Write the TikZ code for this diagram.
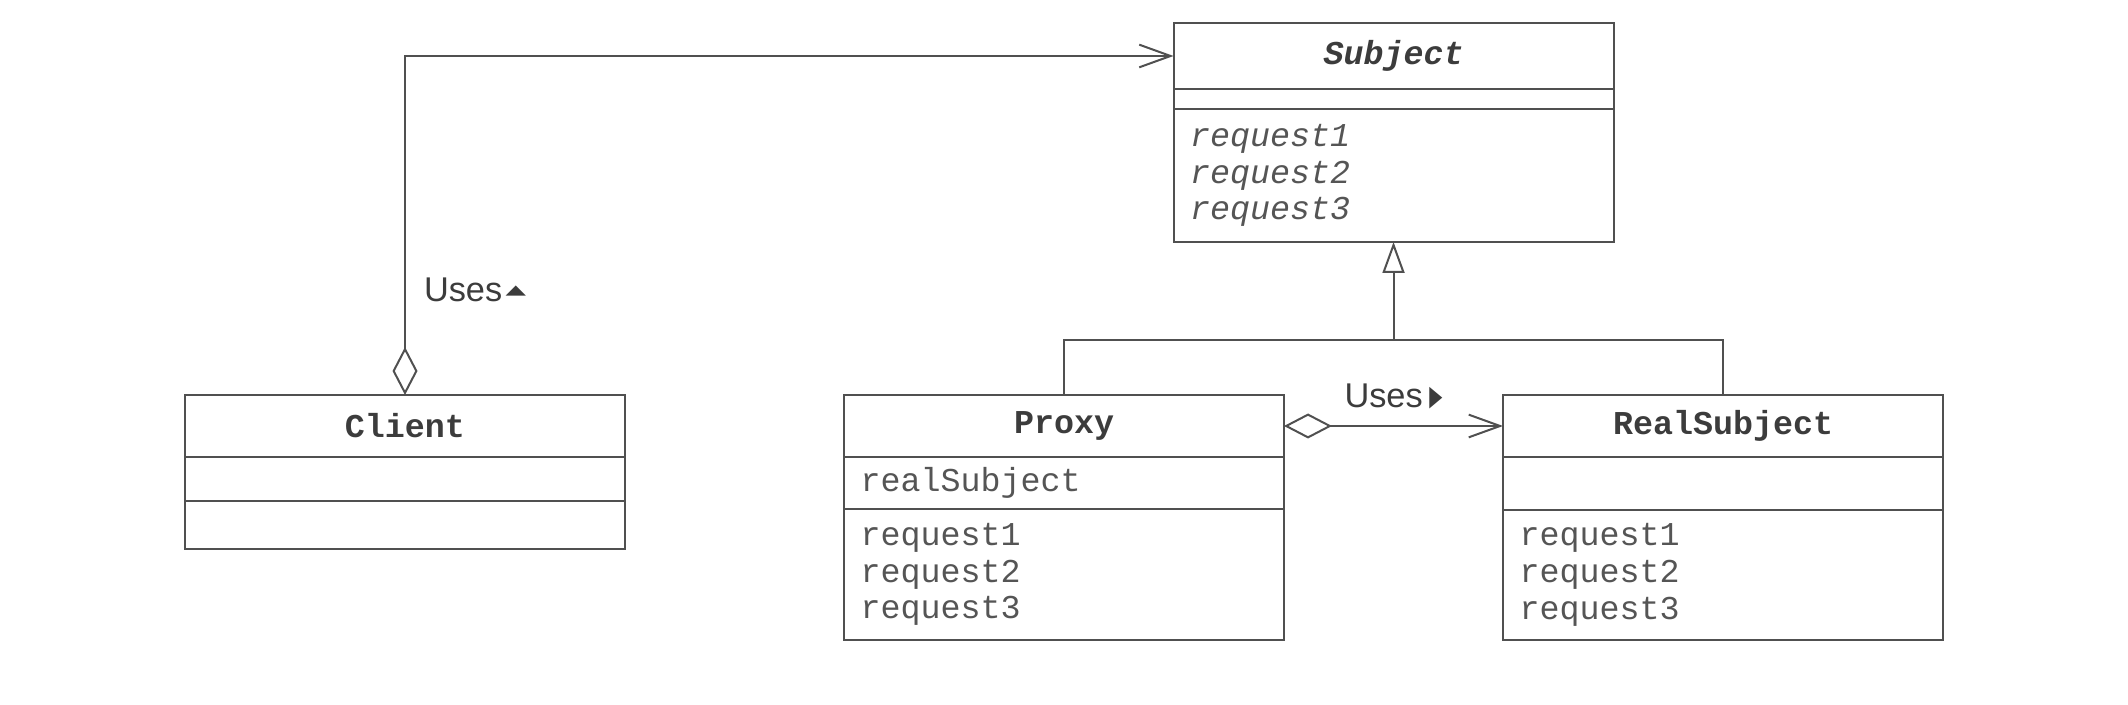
\documentclass[tikz,border=0pt]{standalone}
\usepackage{fontspec}
\setmainfont{Liberation Serif}
\setmonofont{Liberation Mono}
\setsansfont{Liberation Sans}
\newfontfamily\symfont{DejaVu Sans}
\usepackage{tikz}
\usetikzlibrary{arrows.meta, positioning, calc}
\definecolor{umlline}{HTML}{505050}
\definecolor{umltext}{HTML}{3C3C3C}
\definecolor{umlmeth}{HTML}{555555}
\newcommand{\usesup}{{\symfont\fontsize{8pt}{8pt}\selectfont\raisebox{2pt}{\scalebox{1}[0.5]{▲}}}}
\newcommand{\usesright}{{\symfont\fontsize{8.5pt}{9pt}\selectfont\raisebox{0.6pt}{\scalebox{0.6}[1]{▶}}}}
\tikzset{
  cpart/.style={draw=umlline, line width=0.6pt, outer sep=0pt, inner xsep=5pt, inner ysep=0pt, text width=122pt, text=umlmeth, font=\ttfamily\fontsize{10pt}{11pt}\selectfont},
  cname/.style={cpart, align=center, minimum height=18.6pt, text=umltext, font=\ttfamily\bfseries\fontsize{10pt}{11pt}\selectfont},
  cattr/.style={cpart, align=left},
  cops/.style={cpart, align=left},
  link/.style={draw=umlline, line width=0.6pt},
  uses/.style={link, {Diamond[open, length=14.4pt, width=7.5pt]}-{Straight Barb[length=9.4pt, width=6.8pt]}},
  inherit/.style={link, -{Triangle[open, length=9.3pt, width=6.6pt]}},
  ulbl/.style={font=\sffamily\fontsize{10.3pt}{12pt}\selectfont, text=umltext, inner sep=0pt},
}

\begin{document}
\begin{tikzpicture}[node distance=0pt and 65.7pt]
  \useasboundingbox (-55.5pt,118.5pt) rectangle (582.9pt,-92.7pt);
  % client
  \node[cname, anchor=north west] (client) at (0,0) {Client};
  \node[cattr, below=of client, minimum height=13.2pt] (client-attr) {};
  \node[cops, below=of client-attr, minimum height=14.4pt] (client-ops) {};
  % proxy
  \node[cname, right=of client] (proxy) {Proxy};
  \node[cattr, below=of proxy, minimum height=15.6pt] (proxy-attr) {realSubject};
  \node[cops, below=of proxy-attr, minimum height=39.3pt] (proxy-ops) {request1\\request2\\request3};
  % real subject
  \node[cname, right=of proxy] (realsubj) {RealSubject};
  \node[cattr, below=of realsubj, minimum height=15.9pt] (realsubj-attr) {};
  \node[cops, below=of realsubj-attr, minimum height=39pt] (realsubj-ops) {request1\\request2\\request3};
  % subject
  \coordinate (gap) at ($(proxy.north east)!0.5!(realsubj.north west)$);
  \node[cname, above=91.8pt of gap, minimum height=19.8pt, font=\ttfamily\bfseries\itshape\fontsize{10pt}{11pt}\selectfont] (subject) {Subject};
  \node[cattr, below=of subject, minimum height=6pt] (subject-attr) {};
  \node[cops, below=of subject-attr, minimum height=39.9pt, font=\ttfamily\itshape\fontsize{10pt}{11pt}\selectfont] (subject-ops) {request1\\request2\\request3};

  \coordinate[below=29.4pt of subject-ops.south] (joint);
  \draw[link] (proxy.north) |- (joint) -| (realsubj.north);
  \draw[inherit] (joint) -- (subject-ops.south);
  \draw[uses] (client.north) |- node[ulbl, pos=0.155, right=5.4pt] {Uses\kern1pt\usesup} (subject.west);
  \draw[uses] (proxy.east) -- node[ulbl, above=4.8pt] {Uses\kern2pt\usesright} (realsubj.west);
\end{tikzpicture}
\end{document}
